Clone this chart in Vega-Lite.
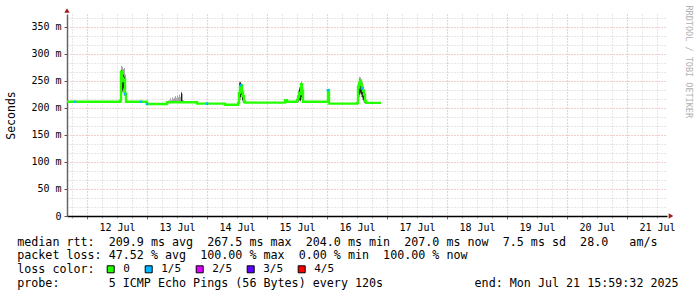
{
  "$schema": "https://vega.github.io/schema/vega-lite/v6.json",
  "autosize": "none",
  "width": 600,
  "height": 202,
  "padding": {"left": 67, "top": 14, "right": 30, "bottom": 81},
  "background": "white",
  "config": {"view": {"stroke": null}},
  "data": {"values": [
    {"t":"2025-07-11T16:00","m":211.5,"gl":211.5,"gh":211.5,"dl":211.5,"dh":211.5,"loss":"0"},
    {"t":"2025-07-11T19:12","m":211.5,"gl":211.5,"gh":211.5,"dl":211.5,"dh":211.5,"loss":"1/5"},
    {"t":"2025-07-12T00:00","m":211.5,"gl":211.5,"gh":211.5,"dl":211.5,"dh":211.5,"loss":"0"},
    {"t":"2025-07-12T12:48","m":211.5,"gl":211.5,"gh":211.5,"dl":211.5,"dh":211.5,"loss":"0"},
    {"t":"2025-07-12T13:12","m":213,"gl":211,"gh":262,"dl":211,"dh":250,"loss":"0"},
    {"t":"2025-07-12T13:36","m":267,"gl":240,"gh":278,"dl":230,"dh":270,"loss":"0"},
    {"t":"2025-07-12T14:00","m":255,"gl":228,"gh":276,"dl":232,"dh":268,"loss":"0"},
    {"t":"2025-07-12T14:24","m":250,"gl":228,"gh":272,"dl":236,"dh":262,"loss":"0"},
    {"t":"2025-07-12T14:48","m":253,"gl":222,"gh":274,"dl":228,"dh":258,"loss":"0"},
    {"t":"2025-07-12T15:12","m":226,"gl":215,"gh":262,"dl":218,"dh":250,"loss":"1/5"},
    {"t":"2025-07-12T15:36","m":211.5,"gl":211.5,"gh":211.5,"dl":211.5,"dh":211.5,"loss":"0"},
    {"t":"2025-07-12T21:36","m":211.5,"gl":211.5,"gh":211.5,"dl":211.5,"dh":211.5,"loss":"1/5"},
    {"t":"2025-07-12T22:00","m":211.5,"gl":211.5,"gh":211.5,"dl":211.5,"dh":211.5,"loss":"0"},
    {"t":"2025-07-13T00:00","m":207.5,"gl":207.5,"gh":207.5,"dl":207.5,"dh":207.5,"loss":"1/5"},
    {"t":"2025-07-13T00:24","m":207.5,"gl":207.5,"gh":207.5,"dl":207.5,"dh":207.5,"loss":"0"},
    {"t":"2025-07-13T08:00","m":210.5,"gl":210.5,"gh":210.5,"dl":210.5,"dh":210.5,"loss":"0"},
    {"t":"2025-07-13T08:24","m":210.5,"gl":210,"gh":214,"dl":210.5,"dh":210.5,"loss":"0"},
    {"t":"2025-07-13T09:12","m":210.5,"gl":210,"gh":218,"dl":210.5,"dh":210.5,"loss":"0"},
    {"t":"2025-07-13T09:36","m":210.5,"gl":210,"gh":215,"dl":210.5,"dh":210.5,"loss":"0"},
    {"t":"2025-07-13T10:00","m":210.5,"gl":210,"gh":220,"dl":210.5,"dh":210.5,"loss":"0"},
    {"t":"2025-07-13T10:24","m":210.5,"gl":210,"gh":217,"dl":210.5,"dh":210.5,"loss":"0"},
    {"t":"2025-07-13T10:48","m":210.5,"gl":210,"gh":219,"dl":210.5,"dh":210.5,"loss":"0"},
    {"t":"2025-07-13T11:12","m":210.5,"gl":210,"gh":222,"dl":210.5,"dh":210.5,"loss":"0"},
    {"t":"2025-07-13T11:36","m":210.5,"gl":210,"gh":218,"dl":210.5,"dh":210.5,"loss":"0"},
    {"t":"2025-07-13T12:00","m":210.5,"gl":210,"gh":223,"dl":210.5,"dh":210.5,"loss":"0"},
    {"t":"2025-07-13T12:24","m":210.5,"gl":210,"gh":220,"dl":210.5,"dh":210.5,"loss":"0"},
    {"t":"2025-07-13T12:48","m":210.5,"gl":210,"gh":225,"dl":210.5,"dh":210.5,"loss":"0"},
    {"t":"2025-07-13T13:12","m":210.5,"gl":210,"gh":221,"dl":210.5,"dh":210.5,"loss":"0"},
    {"t":"2025-07-13T13:36","m":210.5,"gl":210,"gh":230,"dl":210,"dh":228,"loss":"0"},
    {"t":"2025-07-13T14:00","m":210.5,"gl":210,"gh":226,"dl":210,"dh":214,"loss":"0"},
    {"t":"2025-07-13T14:24","m":210.5,"gl":210,"gh":214,"dl":210.5,"dh":210.5,"loss":"0"},
    {"t":"2025-07-13T14:48","m":210.5,"gl":210.5,"gh":210.5,"dl":210.5,"dh":210.5,"loss":"0"},
    {"t":"2025-07-13T20:00","m":208,"gl":208,"gh":208,"dl":208,"dh":208,"loss":"0"},
    {"t":"2025-07-14T00:00","m":208,"gl":208,"gh":208,"dl":208,"dh":208,"loss":"1/5"},
    {"t":"2025-07-14T00:24","m":208,"gl":208,"gh":208,"dl":208,"dh":208,"loss":"0"},
    {"t":"2025-07-14T07:12","m":206,"gl":206,"gh":206,"dl":206,"dh":206,"loss":"0"},
    {"t":"2025-07-14T12:24","m":209,"gl":206,"gh":228,"dl":206,"dh":225,"loss":"0"},
    {"t":"2025-07-14T12:48","m":228,"gl":212,"gh":249,"dl":210,"dh":246,"loss":"0"},
    {"t":"2025-07-14T13:12","m":240,"gl":215,"gh":249,"dl":220,"dh":247,"loss":"0"},
    {"t":"2025-07-14T13:36","m":242,"gl":220,"gh":246,"dl":225,"dh":244,"loss":"1/5"},
    {"t":"2025-07-14T14:00","m":230,"gl":212,"gh":242,"dl":215,"dh":238,"loss":"0"},
    {"t":"2025-07-14T14:24","m":222,"gl":210,"gh":230,"dl":210,"dh":228,"loss":"0"},
    {"t":"2025-07-14T14:48","m":212,"gl":209,"gh":216,"dl":209,"dh":216,"loss":"0"},
    {"t":"2025-07-14T15:12","m":210,"gl":210,"gh":210,"dl":210,"dh":210,"loss":"0"},
    {"t":"2025-07-15T07:12","m":214.5,"gl":214.5,"gh":214.5,"dl":214.5,"dh":214.5,"loss":"0"},
    {"t":"2025-07-15T08:00","m":211.5,"gl":211.5,"gh":211.5,"dl":211.5,"dh":211.5,"loss":"0"},
    {"t":"2025-07-15T12:00","m":215,"gl":211,"gh":224,"dl":211,"dh":222,"loss":"0"},
    {"t":"2025-07-15T12:24","m":220,"gl":212,"gh":233,"dl":212,"dh":230,"loss":"0"},
    {"t":"2025-07-15T12:48","m":228,"gl":213,"gh":239,"dl":215,"dh":236,"loss":"0"},
    {"t":"2025-07-15T13:12","m":226,"gl":212,"gh":242,"dl":214,"dh":240,"loss":"0"},
    {"t":"2025-07-15T13:36","m":244,"gl":215,"gh":250,"dl":220,"dh":246,"loss":"0"},
    {"t":"2025-07-15T14:00","m":232,"gl":212,"gh":242,"dl":214,"dh":240,"loss":"0"},
    {"t":"2025-07-15T14:24","m":211.5,"gl":211.5,"gh":211.5,"dl":211.5,"dh":211.5,"loss":"0"},
    {"t":"2025-07-16T00:24","m":233,"gl":208,"gh":234,"dl":208,"dh":233,"loss":"1/5"},
    {"t":"2025-07-16T00:48","m":208,"gl":208,"gh":208,"dl":208,"dh":208,"loss":"0"},
    {"t":"2025-07-16T12:00","m":209,"gl":208,"gh":242,"dl":208,"dh":240,"loss":"0"},
    {"t":"2025-07-16T12:24","m":238,"gl":212,"gh":249,"dl":215,"dh":246,"loss":"0"},
    {"t":"2025-07-16T12:48","m":246,"gl":220,"gh":258,"dl":225,"dh":253,"loss":"0"},
    {"t":"2025-07-16T13:12","m":251,"gl":225,"gh":257,"dl":228,"dh":251,"loss":"0"},
    {"t":"2025-07-16T13:36","m":243,"gl":220,"gh":252,"dl":225,"dh":248,"loss":"0"},
    {"t":"2025-07-16T14:00","m":236,"gl":215,"gh":248,"dl":220,"dh":244,"loss":"1/5"},
    {"t":"2025-07-16T14:24","m":232,"gl":212,"gh":240,"dl":215,"dh":238,"loss":"0"},
    {"t":"2025-07-16T14:48","m":225,"gl":209,"gh":234,"dl":210,"dh":232,"loss":"0"},
    {"t":"2025-07-16T15:12","m":213,"gl":208,"gh":220,"dl":208,"dh":220,"loss":"0"},
    {"t":"2025-07-16T15:36","m":209.5,"gl":209.5,"gh":209.5,"dl":209.5,"dh":209.5,"loss":"0"},
    {"t":"2025-07-16T21:36","m":209.5,"gl":209.5,"gh":209.5,"dl":209.5,"dh":209.5,"loss":"0"}
  ]},
  "encoding": {
    "x": {
      "field": "t", "type": "temporal",
      "scale": {"domain": [{"year": 2025, "month": 7, "date": 11, "hours": 16}, {"year": 2025, "month": 7, "date": 21, "hours": 16}]},
      "axis": null
    }
  },
  "resolve": {"axis": {"x": "independent", "y": "independent"}},
  "layer": [
    {
      "mark": {"type": "area", "interpolate": "step-after", "color": "#a8a8a8"},
      "encoding": {
        "x": {
          "field": "t", "type": "temporal",
          "axis": {
            "orient": "bottom",
            "values": [
              {"year":2025,"month":7,"date":11,"hours":18},
              {"year":2025,"month":7,"date":12,"hours":6},{"year":2025,"month":7,"date":12,"hours":12},{"year":2025,"month":7,"date":12,"hours":18},
              {"year":2025,"month":7,"date":13,"hours":6},{"year":2025,"month":7,"date":13,"hours":12},{"year":2025,"month":7,"date":13,"hours":18},
              {"year":2025,"month":7,"date":14,"hours":6},{"year":2025,"month":7,"date":14,"hours":12},{"year":2025,"month":7,"date":14,"hours":18},
              {"year":2025,"month":7,"date":15,"hours":6},{"year":2025,"month":7,"date":15,"hours":12},{"year":2025,"month":7,"date":15,"hours":18},
              {"year":2025,"month":7,"date":16,"hours":6},{"year":2025,"month":7,"date":16,"hours":12},{"year":2025,"month":7,"date":16,"hours":18},
              {"year":2025,"month":7,"date":17,"hours":6},{"year":2025,"month":7,"date":17,"hours":12},{"year":2025,"month":7,"date":17,"hours":18},
              {"year":2025,"month":7,"date":18,"hours":6},{"year":2025,"month":7,"date":18,"hours":12},{"year":2025,"month":7,"date":18,"hours":18},
              {"year":2025,"month":7,"date":19,"hours":6},{"year":2025,"month":7,"date":19,"hours":12},{"year":2025,"month":7,"date":19,"hours":18},
              {"year":2025,"month":7,"date":20,"hours":6},{"year":2025,"month":7,"date":20,"hours":12},{"year":2025,"month":7,"date":20,"hours":18},
              {"year":2025,"month":7,"date":21,"hours":6},{"year":2025,"month":7,"date":21,"hours":12}
            ],
            "tickCount": 200,
            "labels": false, "domain": false, "title": null,
            "grid": true, "gridColor": "#cfcfcf", "gridDash": [1, 2],
            "ticks": true, "tickSize": 2, "tickColor": "#aaa"
          }
        },
        "y": {"field": "gl", "type": "quantitative", "scale": {"domain": [0, 374], "nice": false, "zero": true},
          "axis": {
            "orient": "left",
            "values": [16.667, 33.333, 66.667, 83.333, 116.667, 133.333, 166.667, 183.333, 216.667, 233.333, 266.667, 283.333, 316.667, 333.333, 366.667],
            "tickCount": 200,
            "labels": false, "domain": false, "ticks": false, "title": null,
            "grid": true, "gridColor": "#cfcfcf", "gridDash": [1, 2]
          }
        },
        "y2": {"field": "gh"}
      }
    },
    {
      "mark": {"type": "area", "interpolate": "step-after", "color": "#202020"},
      "encoding": {
        "x": {
          "field": "t", "type": "temporal",
          "axis": {
            "orient": "bottom",
            "values": [
              {"year":2025,"month":7,"date":12},{"year":2025,"month":7,"date":13},{"year":2025,"month":7,"date":14},{"year":2025,"month":7,"date":15},{"year":2025,"month":7,"date":16},
              {"year":2025,"month":7,"date":17},{"year":2025,"month":7,"date":18},{"year":2025,"month":7,"date":19},{"year":2025,"month":7,"date":20},{"year":2025,"month":7,"date":21}
            ],
            "tickCount": 200,
            "format": "%d %b",
            "labelFont": "DejaVu Sans Mono", "labelFontSize": 10, "labelColor": "#000",
            "labelOffset": 30, "labelPadding": 3, "labelFlush": false, "labelOverlap": false,
            "grid": true, "gridColor": "#e89a9a", "gridDash": [1, 2],
            "tickSize": 3, "tickColor": "#c55",
            "domainColor": "#000", "domainWidth": 1.5,
            "title": ["median rtt:\u00a0\u00a0209.9\u00a0ms\u00a0avg\u00a0\u00a0267.5\u00a0ms\u00a0max\u00a0\u00a0204.0\u00a0ms\u00a0min\u00a0\u00a0207.0\u00a0ms\u00a0now\u00a0\u00a07.5\u00a0ms\u00a0sd\u00a0\u00a028.0\u00a0\u00a0\u00a0am/s", "packet\u00a0loss:\u00a047.52\u00a0%\u00a0avg\u00a0\u00a0100.00\u00a0%\u00a0max\u00a0\u00a00.00\u00a0%\u00a0min\u00a0\u00a0100.00\u00a0%\u00a0now", "loss\u00a0color:", "probe:\u00a0\u00a0\u00a0\u00a0\u00a0\u00a0\u00a05\u00a0ICMP\u00a0Echo\u00a0Pings\u00a0(56\u00a0Bytes)\u00a0every\u00a0120s\u00a0\u00a0\u00a0\u00a0\u00a0\u00a0\u00a0\u00a0\u00a0\u00a0\u00a0\u00a0\u00a0end:\u00a0Mon\u00a0Jul\u00a021\u00a015:59:32\u00a02025"],
            "titleFont": "DejaVu Sans Mono", "titleFontSize": 11.7, "titleFontWeight": "normal", "titleColor": "#000",
            "titleAlign": "left", "titleAnchor": "start", "titleBaseline": "alphabetic",
            "titleX": -50.3, "titleY": 29, "titleLineHeight": 13.9
          }
        },
        "y": {"field": "dl", "type": "quantitative",
          "axis": {
            "orient": "left",
            "values": [0, 50, 100, 150, 200, 250, 300, 350],
            "tickCount": 200,
            "labelExpr": "datum.value == 0 ? '0' : datum.value + ' m'",
            "labelFont": "DejaVu Sans Mono", "labelFontSize": 10, "labelColor": "#000", "labelPadding": 3, "labelOverlap": false, "labelBaseline": "middle",
            "grid": true, "gridColor": "#e89a9a", "gridDash": [1, 2],
            "tickSize": 3, "tickColor": "#555",
            "domainColor": "#666", "domainWidth": 1.5,
            "title": "Seconds",
            "titleFont": "DejaVu Sans Mono", "titleFontSize": 11.5, "titleFontWeight": "normal", "titleColor": "#000",
            "titleAngle": -90, "titleX": -56, "titleY": 101, "titleAlign": "center", "titleBaseline": "middle"
          }
        },
        "y2": {"field": "dh"}
      }
    },
    {
      "mark": {"type": "line", "interpolate": "step-after", "color": "#26ff00", "strokeWidth": 2.4},
      "encoding": {
        "y": {"field": "m", "type": "quantitative",
          "axis": {
            "orient": "right",
            "labels": false, "ticks": false, "domain": false, "grid": false,
            "title": "RRDTOOL / TOBI OETIKER",
            "titleFont": "DejaVu Sans Mono", "titleFontSize": 8.5, "titleFontWeight": "normal", "titleColor": "#b0b0b0",
            "titleAngle": 90, "titleX": 21.5, "titleY": -9, "titleAlign": "left", "titleBaseline": "middle"
          }
        }
      }
    },
    {
      "transform": [{"filter": "datum.loss != '0'"}],
      "mark": {"type": "point", "shape": "square", "filled": true, "size": 6, "opacity": 1},
      "encoding": {
        "y": {"field": "m", "type": "quantitative", "axis": null},
        "color": {
          "field": "loss", "type": "nominal",
          "scale": {"domain": ["0", "1/5", "2/5", "3/5", "4/5"], "range": ["#26ff00", "#00b8ff", "#dd00ff", "#5e00ff", "#ff0000"]},
          "legend": {
            "orient": "none", "legendX": 38.2, "legendY": 249.8, "direction": "horizontal",
            "title": null, "padding": 0,
            "symbolType": "square", "symbolSize": 49, "symbolStrokeColor": "#000", "symbolStrokeWidth": 1, "symbolOpacity": 1,
            "labelFont": "DejaVu Sans Mono", "labelFontSize": 11, "labelColor": "#000", "labelOffset": 7,
            "columnPadding": 13
          }
        }
      }
    },
    {
      "data": {"values": [{"t": "2025-07-11T16:00", "v": 374}]},
      "mark": {"type": "point", "shape": "triangle-up", "filled": true, "size": 28, "color": "#a11a1a", "opacity": 1, "yOffset": -3.5, "clip": false},
      "encoding": {
        "y": {"field": "v", "type": "quantitative", "axis": null}
      }
    },
    {
      "data": {"values": [{"t": "2025-07-21T16:00", "v": 0}]},
      "mark": {"type": "point", "shape": "triangle-right", "filled": true, "size": 28, "color": "#a11a1a", "opacity": 1, "xOffset": 4, "clip": false},
      "encoding": {
        "y": {"field": "v", "type": "quantitative", "axis": null}
      }
    }
  ]
}
